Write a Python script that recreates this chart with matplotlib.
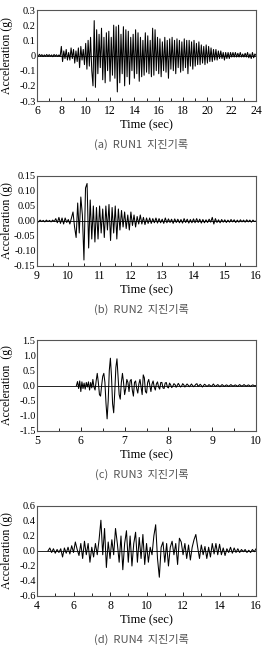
import numpy as np
import matplotlib.pyplot as plt
from matplotlib.ticker import AutoMinorLocator

# RUN1 record: start 6.0 s, dt 0.1 s
run1_t0, run1_dt = 6.0, 0.1
run1_acc = [
    0.005, -0.006, 0.008, -0.004, 0.006, -0.007, 0.004, -0.005, 0.007, -0.006,
    0.006, -0.005, 0.004, -0.008, 0.007, -0.004, 0.005, -0.006, 0.004, -0.007,
    0.06, -0.04, 0.03, -0.02, 0.04, -0.03, 0.02, -0.03, 0.05, -0.02,
    0.04, -0.05, 0.03, -0.04, 0.05, -0.08, 0.06, -0.03, 0.04, -0.06,
    0.08, -0.09, 0.10, -0.07, 0.12, -0.10, -0.20, 0.23, -0.21, 0.17,
    -0.12, 0.14, -0.08, 0.18, -0.16, 0.12, -0.18, 0.15, -0.10, 0.16,
    -0.17, 0.12, -0.13, 0.20, -0.15, 0.19, -0.24, 0.20, -0.18, 0.14,
    -0.12, 0.19, -0.20, 0.17, -0.14, 0.16, -0.19, 0.12, -0.10, 0.14,
    -0.15, 0.17, -0.12, 0.15, -0.17, 0.12, -0.14, 0.10, -0.13, 0.15,
    -0.11, 0.13, -0.12, 0.10, -0.14, 0.18, -0.13, 0.17, -0.10, 0.12,
    -0.12, 0.11, -0.14, 0.09, -0.10, 0.12, -0.11, 0.10, -0.15, 0.11,
    -0.09, 0.12, -0.10, 0.10, -0.12, 0.11, -0.08, 0.10, -0.11, 0.09,
    -0.10, 0.11, -0.08, 0.10, -0.12, 0.10, -0.07, 0.09, -0.09, 0.10,
    -0.07, 0.08, -0.06, 0.09, -0.06, 0.07, -0.05, 0.06, -0.06, 0.07,
    -0.05, 0.06, -0.04, 0.05, -0.04, 0.04, -0.03, 0.04, -0.03, 0.03,
    -0.02, 0.03, -0.02, 0.02, -0.03, 0.02, -0.02, 0.02, -0.02, 0.02,
    -0.01, 0.02, -0.01, 0.02, -0.01, 0.015, -0.01, 0.02, -0.01, 0.01,
    -0.01, 0.015, -0.01, 0.02, -0.015, 0.01, -0.02, 0.02, -0.015, 0.01,
    0.0,
]

# RUN2 record: start 9.0 s, dt 0.05 s
run2_t0, run2_dt = 9.0, 0.05
run2_acc = [
    0.002, -0.003, 0.003, -0.002, 0.002, -0.003, 0.003, -0.002, 0.002, -0.003,
    0.003, -0.002, 0.008, -0.006, 0.012, -0.008, 0.010, -0.010, 0.010, -0.005,
    0.005, -0.010, 0.010, 0.030, -0.020, -0.055, 0.060, -0.040, 0.080, 0.020,
    -0.130, 0.110, 0.125, -0.090, 0.070, -0.060, 0.050, -0.070, 0.045, -0.060,
    0.050, -0.040, 0.040, -0.055, 0.050, -0.030, 0.055, -0.065, 0.045, -0.040,
    0.050, -0.060, 0.040, -0.030, 0.035, -0.020, 0.030, -0.025, 0.020, -0.030,
    0.030, -0.015, 0.020, -0.020, 0.015, -0.010, 0.020, -0.010, 0.012, -0.012,
    0.010, -0.008, 0.010, -0.008, 0.008, -0.006, 0.010, -0.007, 0.008, -0.006,
    0.006, -0.008, 0.010, -0.006, 0.007, -0.005, 0.006, -0.008, 0.007, -0.005,
    0.006, -0.006, 0.005, -0.007, 0.008, -0.005, 0.006, -0.007, 0.005, -0.006,
    0.007, -0.006, 0.008, -0.005, 0.006, -0.007, 0.005, -0.006, 0.004, -0.005,
    0.006, -0.004, 0.012, -0.010, 0.008, -0.005, 0.004, -0.006, 0.005, -0.004,
    0.004, -0.005, 0.003, -0.004, 0.005, -0.003, 0.004, -0.005, 0.003, -0.004,
    0.004, -0.003, 0.003, -0.004, 0.004, -0.003, 0.003, -0.004, 0.003, -0.002,
    0.0,
]

# RUN3 record: start 5.9 s, dt 0.025 s (flat zero before)
run3_t0, run3_dt = 5.9, 0.025
run3_acc = [
    0.0, 0.13, -0.10, 0.15, -0.20, 0.12, -0.10, 0.08, -0.12, 0.10,
    -0.05, 0.12, -0.15, 0.10, -0.08, 0.20, -0.05, -0.15, 0.15, 0.40,
    0.10, -0.30, -0.35, 0.0, 0.30, 0.40, 0.10, -0.60, -1.10, -0.50,
    0.50, 0.90, 0.30, -0.60, -0.90, -0.20, 0.60, 0.88, 0.30, -0.30,
    -0.45, 0.10, 0.40, 0.10, -0.30, -0.10, 0.20, 0.10, -0.20, 0.15,
    0.20, -0.15, -0.35, 0.10, 0.15, -0.10, -0.25, 0.05, 0.20, -0.05,
    -0.30, 0.35, 0.25, -0.20, -0.25, 0.10, 0.20, 0.0, -0.20, 0.05,
    0.15, -0.05, -0.15, 0.05, 0.12, -0.05, -0.12, 0.10, 0.10, -0.08,
    -0.10, 0.08, 0.10, -0.05,
    -0.08, 0.08, 0.02, -0.07, -0.02, 0.06, 0.03, -0.06, 0.0, 0.07,
    0.01, -0.05, -0.02, 0.06, 0.02, -0.05, 0.0, 0.05, 0.01, -0.04,
    0.0, 0.05, 0.0, -0.04, -0.01, 0.04, 0.06, -0.03, 0.0, 0.04,
    0.0, -0.05, 0.0, 0.04, 0.01, -0.03, -0.01, 0.03, 0.0, -0.03,
    0.0, 0.05, 0.0, -0.03, 0.0, 0.03, 0.0, -0.04, 0.0, 0.03,
    0.0, -0.03, 0.0, 0.02, 0.0, -0.03, 0.0, 0.03, 0.0, -0.02,
    0.0, 0.02, 0.0, -0.03, 0.0, 0.03, 0.0, -0.02, 0.0, 0.03,
    0.0, -0.02, 0.0, 0.02, 0.0, -0.03, 0.0, 0.02, 0.0, -0.01,
    0.0,
]

# RUN4 record: start 4.6 s, dt 0.1 s
run4_t0, run4_dt = 4.6, 0.1
run4_acc = [
    0.0, 0.04, -0.02, 0.03,
    -0.03, 0.02, -0.02, 0.03, -0.08, 0.04, -0.03, 0.05, -0.04, 0.07,
    -0.02, 0.12, 0.02, -0.06, 0.10, -0.10, 0.13, -0.05, 0.10, -0.15,
    0.05, -0.08, 0.10, -0.05, 0.15, 0.41, -0.05, 0.30, -0.22, 0.12,
    -0.10, 0.15, -0.05, 0.30, 0.10, -0.15, 0.20, -0.25, 0.10, 0.27,
    -0.15, 0.20, -0.20, 0.10, 0.25, -0.15, 0.18, -0.10, 0.22, -0.18,
    0.10, -0.15, 0.05, -0.05, 0.20, 0.35, -0.10, -0.35, 0.05, 0.12,
    -0.15, 0.10, -0.20, 0.05, 0.13, -0.05, 0.10, -0.18, 0.17, 0.12,
    -0.05, 0.10, -0.10, 0.08, -0.12, 0.05, 0.15, 0.22, 0.05, -0.10,
    0.08, -0.05, 0.06, -0.10, 0.05, -0.08, 0.10, -0.04, 0.10, -0.05,
    0.09, -0.05, 0.04, -0.06, 0.03, -0.02, 0.05, -0.03, 0.04, -0.02,
    0.03, -0.02, 0.02, -0.01, 0.02, -0.02, 0.01, -0.02, 0.02, -0.01,
    0.03,
]

run1_yticks = [-0.3, -0.2, -0.1, 0, 0.1, 0.2, 0.3]
run1_ylabels = ["-0.3", "-0.2", "-0.1", "0", "0.1", "0.2", "0.3"]
run2_yticks = [-0.15, -0.10, -0.05, 0.0, 0.05, 0.10, 0.15]
run2_ylabels = ["-0.15", "-0.10", "-0.05", "0.00", "0.05", "0.10", "0.15"]
run3_yticks = [-1.5, -1.0, -0.5, 0.0, 0.5, 1.0, 1.5]
run3_ylabels = ["-1.5", "-1.0", "-0.5", "0.0", "0.5", "1.0", "1.5"]
run4_yticks = [-0.6, -0.4, -0.2, 0.0, 0.2, 0.4, 0.6]
run4_ylabels = ["-0.6", "-0.4", "-0.2", "0.0", "0.2", "0.4", "0.6"]

panels = [
    (run1_t0, run1_dt, run1_acc, (6, 24), np.arange(6, 25, 2), (-0.3, 0.3),
     run1_yticks, run1_ylabels, "Acceleration (g)",
     "(a)  RUN1  지진기록", [0.1407, 0.8458, 0.833, 0.1389], 0.780),
    (run2_t0, run2_dt, run2_acc, (9, 16), np.arange(9, 17, 1), (-0.15, 0.15),
     run2_yticks, run2_ylabels, "Acceleration (g)",
     "(b)  RUN2  지진기록", [0.1407, 0.5939, 0.833, 0.1374], 0.527),
    (run3_t0, run3_dt, run3_acc, (5, 10), np.arange(5, 11, 1), (-1.5, 1.5),
     run3_yticks, run3_ylabels, "Acceleration  (g)",
     "(c)  RUN3  지진기록", [0.1407, 0.3420, 0.833, 0.1389], 0.276),
    (run4_t0, run4_dt, run4_acc, (4, 16), np.arange(4, 17, 2), (-0.6, 0.6),
     run4_yticks, run4_ylabels, "Acceleration (g)",
     "(d)  RUN4  지진기록", [0.1407, 0.0901, 0.833, 0.1374], 0.023),
]

fig = plt.figure(figsize=(2.63, 6.55), dpi=100)
serif = "Liberation Serif"

for t0, dt, acc, xlim, xt, ylim, yt, ylab, ytitle, cap, pos, capy in panels:
    ax = fig.add_axes(pos)
    t = t0 + dt * np.arange(len(acc))
    ax.axhline(0, color="black", lw=0.6)
    ax.plot(t, acc, color="black", lw=0.75)
    ax.set_xlim(*xlim)
    ax.set_ylim(*ylim)
    ax.set_xticks(xt)
    ax.set_yticks(yt)
    ax.set_yticklabels(ylab)
    ax.xaxis.set_minor_locator(AutoMinorLocator(2))
    ax.tick_params(axis="x", which="both", direction="in", top=False,
                   labelsize=8.5, pad=3)
    ax.tick_params(axis="x", which="major", length=3, width=0.6)
    ax.tick_params(axis="x", which="minor", length=2, width=0.6)
    ax.tick_params(axis="y", length=0, labelsize=7.5, pad=1)
    for lab in ax.get_xticklabels() + ax.get_yticklabels():
        lab.set_fontfamily(serif)
    for s in ax.spines.values():
        s.set_color("#555555")
        s.set_linewidth(0.8)
    ax.set_xlabel("Time (sec)", fontfamily=serif, fontsize=9)
    ax.xaxis.set_label_coords(0.5, -0.2)
    ax.set_ylabel(ytitle, fontfamily=serif, fontsize=8.5)
    ax.yaxis.set_label_coords(-0.11, 0.5)
    fig.text(0.538, capy, cap, ha="center", va="center", fontsize=8,
             color="#555555", family=["Noto Sans CJK KR", "DejaVu Sans"])

fig.savefig("out.png", dpi=100)
